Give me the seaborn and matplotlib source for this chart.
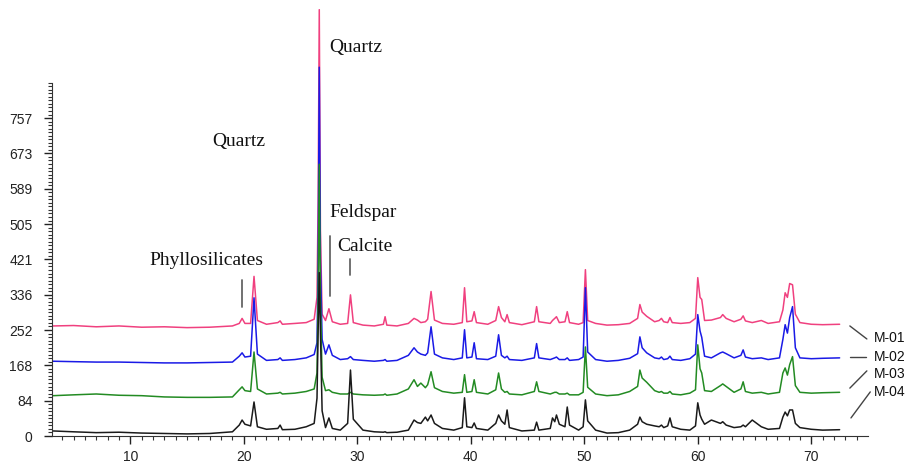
import numpy as np
import pandas as pd
import matplotlib
matplotlib.use("Agg")
import matplotlib.pyplot as plt
import seaborn as sns

# 2-theta grid shared by all four patterns
two_theta = [
    3.2, 5, 7, 9, 11, 13, 15, 17, 19, 19.6, 19.85, 20.1, 20.6, 20.9, 21.2, 22,
    23.0, 23.2, 23.4, 24.5, 25.5, 26.2, 26.45, 26.55, 26.65, 26.75, 26.9, 27.2,
    27.5, 27.8, 28.5, 29.15, 29.4, 29.65, 30.5, 31.5, 32.3, 32.45, 32.6, 33.5,
    34.5, 35.0, 35.3, 35.6, 36.0, 36.2, 36.5, 36.8, 37.5, 38.5, 39.25, 39.45,
    39.65, 40.1, 40.3, 40.5, 41.5, 42.2, 42.45, 42.7, 43.0, 43.2, 43.4, 44.5,
    45.6, 45.8, 46.0, 47.0, 47.2, 47.4, 47.55, 47.8, 48.3, 48.5, 48.7, 49.5,
    49.9, 50.1, 50.3, 51, 52, 53, 54.0, 54.7, 54.9, 55.1, 55.5, 56.2, 56.6,
    56.8, 57.0, 57.35, 57.55, 57.75, 58.5, 59.3, 59.8, 60.0, 60.2, 60.35, 60.6,
    61.2, 62.0, 62.2, 62.5, 63.2, 63.8, 64.0, 64.2, 64.8, 65.6, 66.2, 67.2,
    67.5, 67.7, 67.9, 68.1, 68.35, 68.6, 69.0, 70, 71, 72.5,
]

m01 = [
    262, 263, 260, 262, 259, 260, 258, 259, 262, 268, 280, 268, 268, 380, 275, 266,
    270, 274, 266, 268, 270, 278, 330, 560, 1015, 490, 290, 275,
    303, 272, 266, 268, 336, 270, 264, 262, 266, 284, 264, 262,
    268, 280, 276, 270, 272, 278, 344, 276, 268, 266, 270, 353,
    272, 274, 296, 270, 266, 275, 308, 282, 272, 289, 270, 265,
    272, 308, 272, 268, 275, 280, 284, 270, 272, 296, 270, 266,
    270, 396, 275, 268, 264, 265, 268, 280, 313, 295, 285, 272, 275,
    280, 272, 270, 282, 270, 268, 270, 280, 377, 330, 325, 275,
    276, 282, 289, 280, 272, 278, 286, 274, 270, 275, 268, 272,
    300, 341, 330, 363, 360, 290, 270, 266, 265, 266,
]

m02 = [
    178, 177, 176, 176, 175, 174, 174, 175, 176, 190, 198, 188, 190, 329, 195, 180,
    182, 186, 180, 182, 186, 194, 222, 400, 878, 420, 230, 195,
    217, 192, 182, 184, 189, 182, 180, 178, 180, 182, 178, 180,
    192, 210, 200, 195, 192, 198, 260, 195, 186, 182, 186, 253,
    186, 188, 222, 184, 182, 190, 241, 192, 186, 190, 182, 180,
    186, 220, 186, 182, 184, 186, 188, 182, 182, 186, 180, 182,
    188, 353, 200, 182, 178, 180, 185, 196, 236, 210, 198, 186, 184,
    188, 182, 184, 190, 182, 180, 184, 195, 289, 250, 235, 190,
    186, 198, 200, 196, 186, 192, 205, 188, 184, 186, 182, 186,
    230, 265, 245, 282, 308, 210, 186, 184, 185, 186,
]

m03 = [
    96, 98, 100, 97, 96, 93, 92, 92, 93, 110, 117, 108, 106, 200, 112, 100,
    102, 104, 100, 102, 106, 112, 150, 330, 647, 330, 140, 108,
    110, 104, 100, 100, 104, 100, 98, 97, 98, 100, 97, 100,
    112, 134, 118, 126, 115, 122, 153, 115, 106, 102, 104, 146,
    104, 106, 134, 104, 100, 110, 150, 112, 104, 106, 100, 98,
    106, 129, 106, 100, 102, 104, 104, 100, 100, 102, 98, 98,
    104, 212, 116, 100, 96, 98, 106, 118, 157, 138, 128, 108, 104,
    106, 102, 102, 106, 100, 98, 102, 110, 217, 160, 150, 108,
    106, 120, 124, 118, 104, 112, 129, 106, 102, 104, 100, 104,
    150, 162, 145, 170, 189, 120, 104, 102, 103, 104,
]

m04 = [
    12, 10, 8, 9, 7, 6, 5, 6, 10, 26, 38, 28, 24, 81, 22, 16,
    18, 26, 15, 16, 22, 30, 90, 250, 389, 250, 60, 20,
    43, 18, 14, 30, 157, 40, 14, 10, 9, 10, 8, 9,
    14, 38, 32, 30, 45, 36, 50, 30, 18, 14, 20, 91,
    22, 20, 31, 18, 14, 30, 50, 36, 28, 62, 20, 12,
    14, 33, 14, 18, 43, 34, 50, 28, 22, 69, 26, 14,
    22, 86, 36, 14, 7, 8, 14, 28, 45, 34, 28, 24, 22,
    26, 20, 24, 43, 22, 16, 14, 24, 79, 50, 40, 28,
    38, 30, 34, 26, 20, 22, 26, 22, 38, 22, 16, 18,
    45, 57, 48, 62, 62, 30, 20, 16, 14, 15,
]

samples = ["M-01", "M-02", "M-03", "M-04"]
colors = ["#f0407f", "#1a1ae6", "#238b23", "#1a1a1a"]

y_ticks = [0, 84.1, 168.2, 252.3, 336.4, 420.5, 504.6, 588.7, 672.8, 756.9]
y_tick_labels = ["0", "84", "168", "252", "336", "421", "505", "589", "673", "757"]
x_ticks = [10, 20, 30, 40, 50, 60, 70]

df = pd.DataFrame({
    "two_theta": two_theta * 4,
    "counts": m01 + m02 + m03 + m04,
    "sample": np.repeat(samples, len(two_theta)),
})

sns.set_style("white")
plt.rcParams["font.family"] = ["Liberation Sans", "DejaVu Sans"]

fig = plt.figure(figsize=(9.17, 4.63), dpi=100)
ax = fig.add_axes([52 / 917, 27 / 463, 816 / 917, 436 / 463])

sns.lineplot(data=df, x="two_theta", y="counts", hue="sample", hue_order=samples,
             palette=colors, estimator=None, linewidth=1.1, legend=False, ax=ax)

ax.set_xlim(3.1, 75)
ax.set_ylim(0, 1038)
ax.set_xlabel("")
ax.set_ylabel("")

for side in ["top", "right"]:
    ax.spines[side].set_visible(False)
ax.spines["left"].set_bounds(0, 841)
ax.spines["left"].set_color("#333333")
ax.spines["bottom"].set_color("#333333")

ax.set_yticks(y_ticks)
ax.set_yticklabels(y_tick_labels)
ax.set_yticks(np.arange(0, 842, 8.41), minor=True)
ax.set_xticks(x_ticks)
ax.set_xticks(np.arange(4, 75, 1), minor=True)
ax.tick_params(axis="both", which="major", direction="out", length=6, width=1,
               labelsize=10, colors="#222222", bottom=True, left=True)
ax.tick_params(axis="y", which="major", pad=8)
ax.tick_params(axis="x", which="major", pad=4)
ax.tick_params(axis="both", which="minor", direction="out", length=3, width=0.8,
               colors="#333333", bottom=True, left=True)

# mineral annotations
serif = dict(family="Liberation Serif", fontsize=14, color="#111111", va="center")
ax.text(27.5, 926, "Quartz", **serif)
ax.text(17.2, 700, "Quartz", **serif)
ax.text(27.5, 531, "Feldspar", **serif)
ax.text(28.2, 450, "Calcite", **serif)
ax.text(11.7, 417, "Phyllosilicates", **serif)

marker = dict(color="#666666", linewidth=1.3)
ax.plot([19.85, 19.85], [307, 371], **marker)
ax.plot([27.6, 27.6], [333, 476], **marker)
ax.plot([29.35, 29.35], [383, 421], **marker)

# sample labels with leader lines
label_y = [233, 188, 148, 105]
leaders = [((73.4, 74.9), (262, 231)), ((73.4, 74.8), (188, 188)),
           ((73.4, 74.9), (114, 155)), ((73.5, 75.2), (43, 105))]
for name, ly, (lx, lyy) in zip(samples, label_y, leaders):
    ax.plot(lx, lyy, color="#444444", linewidth=1.0, clip_on=False)
    ax.text(75.5, ly, name, fontsize=10, color="#111111", va="center",
            clip_on=False)

plt.savefig("out.png", dpi=100)
